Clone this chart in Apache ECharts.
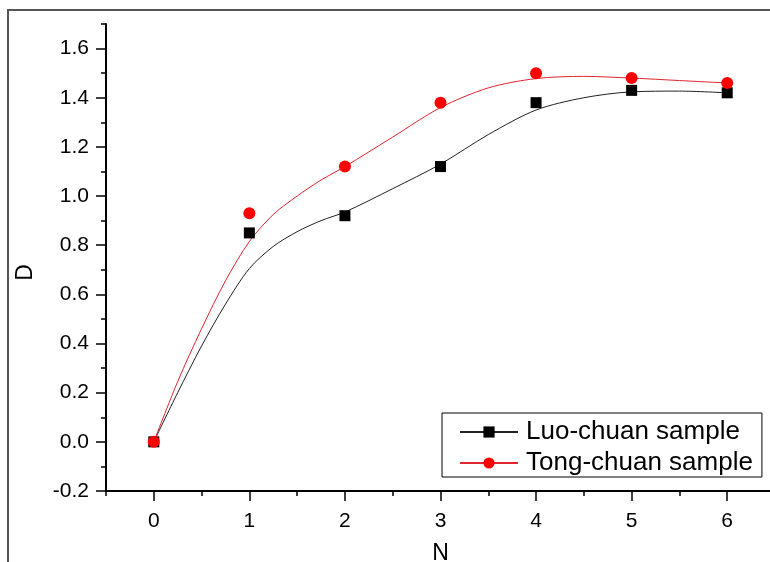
<!DOCTYPE html>
<html>
<head>
<meta charset="utf-8">
<script src="https://cdn.jsdelivr.net/npm/echarts@6/dist/echarts.min.js"></script>
<style>
  html, body { margin: 0; padding: 0; background: #fff; }
  #main { width: 770px; height: 562px; }
</style>
</head>
<body>
<div id="main"></div>
<script>
// measured points
const sampleN = [0, 1, 2, 3, 4, 5, 6];
const luoValues = [0, 0.85, 0.92, 1.12, 1.38, 1.43, 1.42];
const tongValues = [0, 0.93, 1.12, 1.38, 1.50, 1.48, 1.46];

// fitted curves
const curveN = [0, 0.25, 0.5, 0.75, 1, 1.25, 1.5, 1.75, 2, 2.5, 3, 3.5, 4, 4.5, 5, 5.5, 6];
const luoCurve = [0, 0.2, 0.39, 0.56, 0.705, 0.795, 0.855, 0.90, 0.935, 1.03, 1.13, 1.25, 1.35, 1.40, 1.424, 1.427, 1.42];
const tongCurve = [0, 0.245, 0.46, 0.655, 0.815, 0.925, 1.0, 1.065, 1.12, 1.24, 1.36, 1.44, 1.478, 1.487, 1.48, 1.47, 1.46];

// ticks
const xTicks = [0, 1, 2, 3, 4, 5, 6];
const xMinorTicks = [-0.5, 0.5, 1.5, 2.5, 3.5, 4.5, 5.5, 6.5];
const yTicks = [-0.2, 0, 0.2, 0.4, 0.6, 0.8, 1.0, 1.2, 1.4, 1.6];
const yMinorTicks = [-0.1, 0.1, 0.3, 0.5, 0.7, 0.9, 1.1, 1.3, 1.5, 1.7];

const font = 'Liberation Sans, Arial, sans-serif';
const pairs = (xs, ys) => xs.map((x, i) => [x, ys[i]]);

const chart = echarts.init(document.getElementById('main'));

// same box for the main grid and the minor-tick grid
const gridBox = { left: 106, top: 24, width: 669, height: 467, containLabel: false, outerBoundsMode: 'none' };

const option = {
  animation: false,
  backgroundColor: '#fff',
  graphic: [{
    type: 'rect',
    shape: { x: 8, y: 10, width: 800, height: 600 },
    style: { fill: 'none', stroke: '#555', lineWidth: 2 },
    silent: true
  }],
  grid: [Object.assign({}, gridBox), Object.assign({}, gridBox)],
  legend: {
    orient: 'vertical',
    left: 442,
    top: 413,
    padding: [6, 9, 1, 17],
    itemGap: 5,
    itemWidth: 58,
    itemHeight: 14,
    borderColor: '#000',
    borderWidth: 1,
    backgroundColor: '#fff',
    textStyle: { fontFamily: font, fontSize: 26, color: '#000', padding: [0, 0, 0, 3] },
    data: ['Luo-chuan sample', 'Tong-chuan sample']
  },
  xAxis: [{
    type: 'value',
    gridIndex: 0,
    min: -0.5,
    max: 6.5,
    name: 'N',
    nameLocation: 'middle',
    nameGap: 51,
    nameTextStyle: { fontFamily: font, fontSize: 23, color: '#000' },
    axisLine: { onZero: false, lineStyle: { color: '#000', width: 2 } },
    axisTick: { customValues: xTicks, length: 10, lineStyle: { color: '#000', width: 1.5 } },
    axisLabel: { customValues: xTicks, margin: 20, fontFamily: font, fontSize: 21, color: '#000' },
    splitLine: { show: false }
  }, {
    type: 'value',
    gridIndex: 1,
    min: -0.5,
    max: 6.5,
    axisLine: { show: false, onZero: false },
    axisTick: { customValues: xMinorTicks, length: 5, lineStyle: { color: '#000', width: 1.5 } },
    axisLabel: { show: false },
    splitLine: { show: false }
  }],
  yAxis: [{
    type: 'value',
    gridIndex: 0,
    min: -0.2,
    max: 1.7,
    name: 'D',
    nameLocation: 'middle',
    nameGap: 69,
    nameRotate: 90,
    nameTextStyle: { fontFamily: font, fontSize: 23, color: '#000', padding: [0, 30, 0, 0] },
    axisLine: { show: true, onZero: false, lineStyle: { color: '#000', width: 2 } },
    axisTick: { show: true, customValues: yTicks, length: 10, lineStyle: { color: '#000', width: 1.5 } },
    axisLabel: {
      customValues: yTicks, margin: 17, fontFamily: font, fontSize: 21, color: '#000',
      formatter: v => v.toFixed(1)
    },
    splitLine: { show: false }
  }, {
    type: 'value',
    gridIndex: 1,
    min: -0.2,
    max: 1.7,
    axisLine: { show: false, onZero: false },
    axisTick: { show: true, customValues: yMinorTicks, length: 5, lineStyle: { color: '#000', width: 1.5 } },
    axisLabel: { show: false },
    splitLine: { show: false }
  }],
  series: [{
    name: 'Luo-chuan sample',
    type: 'line',
    data: pairs(curveN, luoCurve),
    smooth: 0.3,
    symbol: 'rect',
    symbolSize: 11,
    showSymbol: false,
    lineStyle: { color: '#222', width: 1 },
    itemStyle: { color: '#000' },
    z: 2
  }, {
    name: 'Tong-chuan sample',
    type: 'line',
    data: pairs(curveN, tongCurve),
    smooth: 0.3,
    symbol: 'circle',
    symbolSize: 13,
    showSymbol: false,
    lineStyle: { color: '#e02430', width: 1 },
    itemStyle: { color: '#ff0000' },
    z: 2
  }, {
    name: 'Luo-chuan sample',
    type: 'scatter',
    data: pairs(sampleN, luoValues),
    symbol: 'rect',
    symbolSize: 11,
    itemStyle: { color: '#000', opacity: 1 },
    z: 3
  }, {
    name: 'Tong-chuan sample',
    type: 'scatter',
    data: pairs(sampleN, tongValues),
    symbol: 'circle',
    symbolSize: 12,
    itemStyle: { color: '#ff0000', opacity: 1 },
    z: 4
  }]
};

chart.setOption(option);
</script>
</body>
</html>
